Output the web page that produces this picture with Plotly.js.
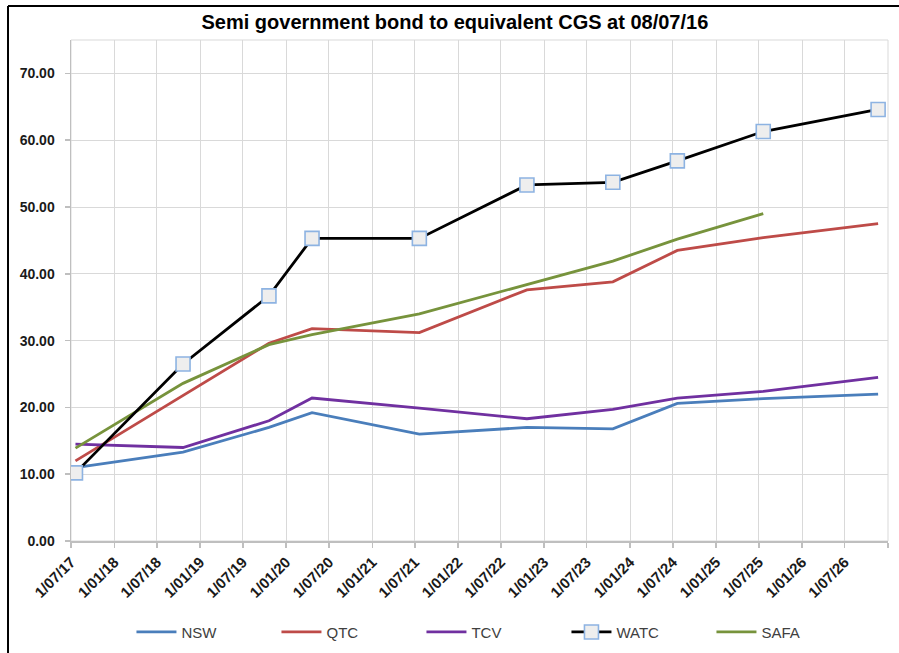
<!DOCTYPE html>
<html>
<head>
<meta charset="utf-8">
<script src="https://cdn.plot.ly/plotly-3.0.1.min.js"></script>
<style>
  html, body { margin: 0; padding: 0; background: #ffffff; }
  #chart { width: 899px; height: 653px; }
</style>
</head>
<body>
<div id="chart"></div>
<script>
// ---- data ----
var dates = ['2017-07-20','2018-10-20','2019-10-20','2020-04-20','2021-07-20',
             '2022-10-20','2023-10-20','2024-07-20','2025-07-20','2026-11-20'];
var nsw  = [11.0, 13.3, 17.0, 19.2, 16.0, 17.0, 16.8, 20.6, 21.3, 22.0];
var qtc  = [12.0, 21.8, 29.6, 31.8, 31.2, 37.6, 38.8, 43.5, 45.4, 47.5];
var tcv  = [14.5, 14.0, 18.0, 21.4, 19.9, 18.3, 19.7, 21.4, 22.4, 24.5];
var watc = [10.2, 26.5, 36.7, 45.3, 45.3, 53.3, 53.7, 56.9, 61.3, 64.6];
var safa = [13.9, 23.6, 29.4, 30.9, 34.0, 38.4, 41.9, 45.2, 49.0, null];

var seriesNames = ['NSW', 'QTC', 'TCV', 'WATC', 'SAFA'];

var tickDates = ['2017-07-01','2018-01-01','2018-07-01','2019-01-01','2019-07-01',
                 '2020-01-01','2020-07-01','2021-01-01','2021-07-01','2022-01-01',
                 '2022-07-01','2023-01-01','2023-07-01','2024-01-01','2024-07-01',
                 '2025-01-01','2025-07-01','2026-01-01','2026-07-01','2027-01-01'];
var tickLabels = ['1/07/17','1/01/18','1/07/18','1/01/19','1/07/19',
                  '1/01/20','1/07/20','1/01/21','1/07/21','1/01/22',
                  '1/07/22','1/01/23','1/07/23','1/01/24','1/07/24',
                  '1/01/25','1/07/25','1/01/26','1/07/26',''];
var yTicks = [0, 10, 20, 30, 40, 50, 60, 70];

// ---- styling ----
var FONT = 'Liberation Sans, Arial, sans-serif';
var lineW = 2.8;

var traces = [
  {x: dates, y: nsw,  name: seriesNames[0], mode: 'lines', legendrank: 1, line: {color: '#4a7ebb', width: lineW}},
  {x: dates, y: qtc,  name: seriesNames[1], mode: 'lines', legendrank: 2, line: {color: '#be4b48', width: lineW}},
  {x: dates, y: tcv,  name: seriesNames[2], mode: 'lines', legendrank: 3, line: {color: '#7030a0', width: lineW}},
  {x: dates, y: safa, name: seriesNames[4], mode: 'lines', legendrank: 5, line: {color: '#77933c', width: lineW}},
  {x: dates, y: watc, name: seriesNames[3], mode: 'lines+markers', legendrank: 4,
   line: {color: '#000000', width: lineW},
   marker: {symbol: 'square', size: 14, color: '#eeeeee', line: {color: '#8db3e2', width: 1.6}}}
];

var layout = {
  width: 899, height: 653,
  paper_bgcolor: '#ffffff', plot_bgcolor: '#ffffff',
  margin: {l: 71, r: 11, t: 40, b: 112, autoexpand: false},
  showlegend: true,
  title: {
    text: '<b>Semi government bond to equivalent CGS at 08/07/16</b>',
    font: {family: FONT, size: 20, color: '#000000'},
    xref: 'container', x: 0.506, xanchor: 'center',
    yref: 'container', y: 0.966, yanchor: 'middle'
  },
  xaxis: {
    type: 'date',
    range: ['2017-07-01', '2027-01-01'],
    tickmode: 'array', tickvals: tickDates, ticktext: tickLabels,
    tickangle: -45,
    tickfont: {family: FONT, size: 15, color: '#1a1a1a', weight: 'bold'},
    showgrid: true, gridcolor: '#d9d9d9', gridwidth: 1,
    showline: true, linecolor: '#bfbfbf', linewidth: 1.5,
    ticks: 'outside', ticklen: 5, tickcolor: '#bfbfbf', tickwidth: 1.5,
    zeroline: false, fixedrange: true, automargin: false
  },
  yaxis: {
    range: [0, 75],
    tickmode: 'array', tickvals: yTicks,
    tickformat: '.2f',
    tickfont: {family: FONT, size: 14, color: '#1a1a1a', weight: 'bold'},
    ticklabelstandoff: 7,
    showgrid: true, gridcolor: '#d9d9d9', gridwidth: 1,
    showline: true, linecolor: '#bfbfbf', linewidth: 1.5,
    ticks: 'outside', ticklen: 5, tickcolor: '#bfbfbf', tickwidth: 1.5,
    zeroline: false, fixedrange: true, automargin: false
  },
  legend: {
    orientation: 'h',
    x: 0.074, xanchor: 'left',
    y: -0.182, yanchor: 'middle',
    entrywidth: 90, entrywidthmode: 'pixels',
    itemwidth: 40,
    font: {family: FONT, size: 15, color: '#404040'},
    traceorder: 'normal',
    bgcolor: 'rgba(0,0,0,0)'
  },
  shapes: [
    {type: 'rect', xref: 'paper', yref: 'paper', x0: 0, x1: 1, y0: 0, y1: 1,
     line: {color: '#d9d9d9', width: 1}, layer: 'below'},
    {type: 'line', xref: 'paper', yref: 'paper', x0: -0.0771, x1: 1.03, y0: 1.0679, y1: 1.0679,
     line: {color: '#000000', width: 2}},
    {type: 'line', xref: 'paper', yref: 'paper', x0: -0.0771, x1: -0.0771, y0: 1.0679, y1: -0.25,
     line: {color: '#000000', width: 2}}
  ]
};

Plotly.newPlot('chart', traces, layout, {displayModeBar: false, staticPlot: true});
</script>
</body>
</html>
